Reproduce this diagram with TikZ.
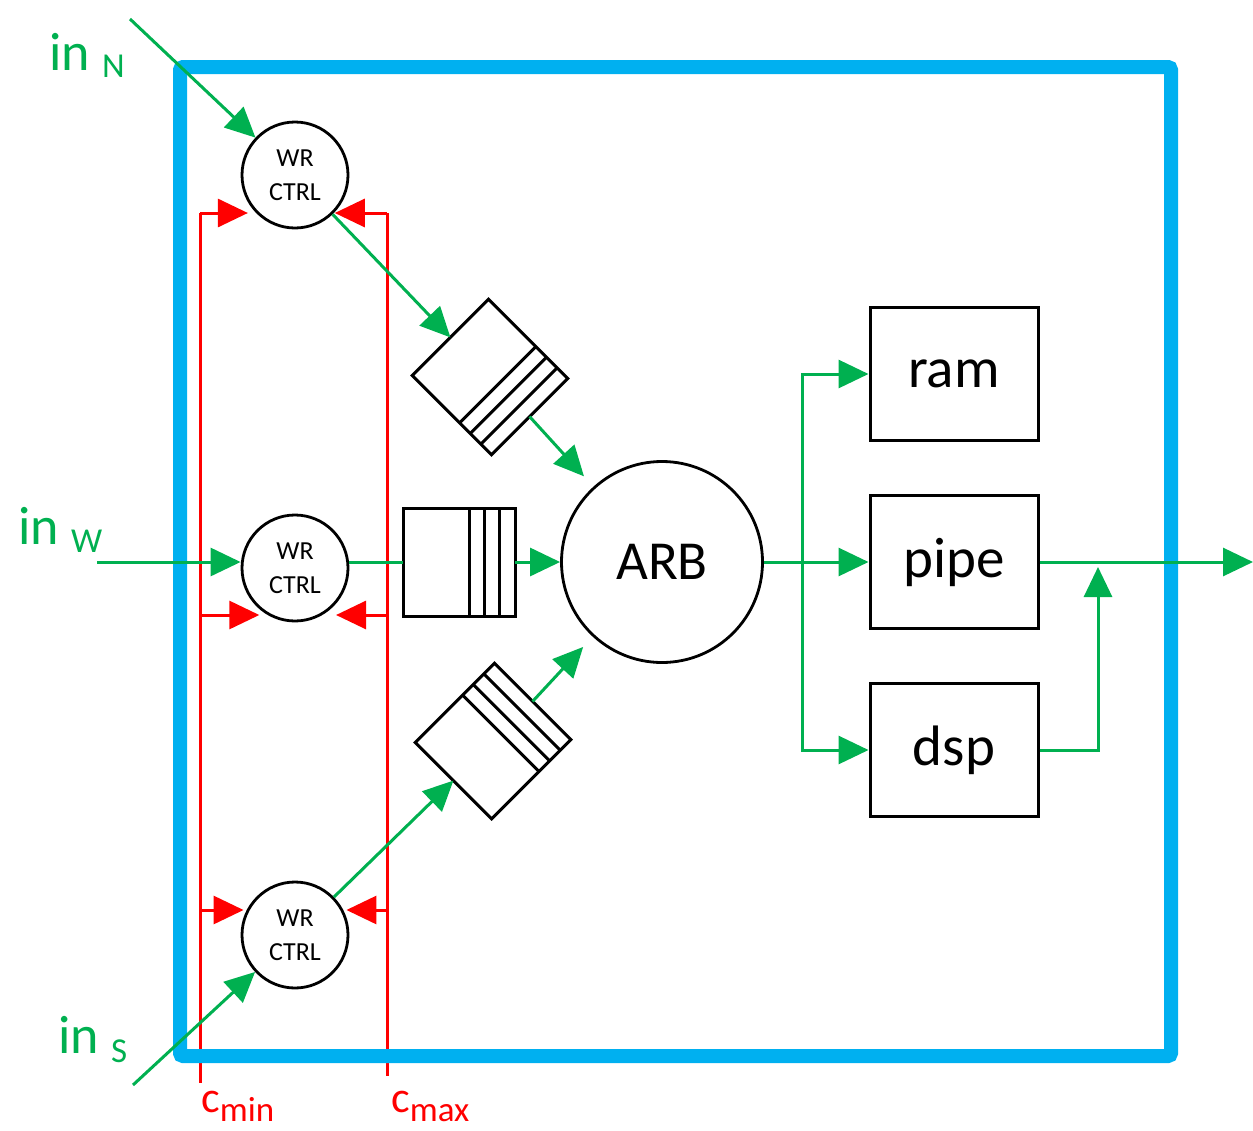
\documentclass[tikz,border=0pt]{standalone}
\usepackage{fontspec}
\setmainfont{Carlito}
\usepackage{tikz}
\usetikzlibrary{calc,arrows.meta}
\usepackage{xcolor}
\definecolor{framecyan}{RGB}{0,176,240}
\definecolor{siggreen}{RGB}{0,176,80}
\definecolor{ctlred}{RGB}{255,0,0}
\newcommand{\lowsub}[2]{\raisebox{-#1pt}[0pt][0pt]{\fontsize{35}{35}\selectfont #2}}

\begin{document}
\begin{tikzpicture}[x=1pt,y=-1pt,>={Triangle[length=30pt,width=28pt]}]
  \tikzset{
    wr/.style={circle,draw=black,line width=2.8pt,minimum size=106pt,inner sep=0pt,align=center,font=\fontsize{26}{34}\selectfont},
    fifo/.style={rectangle,draw=black,line width=3pt,minimum width=112pt,minimum height=108pt,inner sep=0pt,outer sep=0pt},
    stripe/.style={draw=black,line width=3pt},
    arbnode/.style={circle,draw=black,line width=2.8pt,minimum size=201pt,inner sep=0pt,font=\fontsize{55}{55}\selectfont},
    blk/.style={rectangle,draw=black,line width=3pt,minimum width=168pt,minimum height=133pt,inner sep=0pt,font=\fontsize{57}{57}\selectfont},
    tileframe/.style={draw=framecyan,line width=14pt,rounded corners=3pt},
    sig/.style={draw=siggreen,line width=3pt},
    ctl/.style={draw=ctlred,line width=3pt},
    inlbl/.style={text=siggreen,anchor=base west,inner sep=0pt,font=\fontsize{54}{54}\selectfont},
    clbl/.style={text=ctlred,anchor=base west,inner sep=0pt,font=\fontsize{44}{44}\selectfont},
  }
  \useasboundingbox (0,0) rectangle (1253,1130);

  \node[wr] (wrN) at (295,175) {WR\\CTRL};
  \node[wr] (wrW) at (295,568) {WR\\CTRL};
  \node[wr] (wrS) at (295,935) {WR\\CTRL};

  \node[fifo,rotate=-45] (fifoN) at (490,377) {};
  \node[fifo] (fifoW) at (459,562) {};
  \node[fifo,rotate=45] (fifoS) at (493,741) {};
  \foreach \f in {fifoN,fifoW,fifoS}
    \foreach \t in {0.134,0.268,0.402}
      \draw[stripe] ($(\f.north east)!\t!(\f.north west)$) -- ($(\f.south east)!\t!(\f.south west)$);

  \node[arbnode] (arb) at (662,562) {ARB};

  \node[blk] (ram) at (954,374) {ram};
  \node[blk] (pipe) at (954,562) {pipe};
  \node[blk] (dsp) at (954,750) {dsp};

  % limits
  \coordinate (cminN) at (200,213); \coordinate (cmaxN) at (387,213);
  \coordinate (cminW) at (200,615); \coordinate (cmaxW) at (387,615);
  \coordinate (cminS) at (200,910); \coordinate (cmaxS) at (387,910);
  \coordinate (cminB) at (200,1083); \coordinate (cmaxB) at (387,1076);
  \draw[ctl] (cminN) -- (cminB);
  \draw[ctl] (cmaxN) -- (cmaxB);
  \draw[ctl,->] (cminN) -- (wrN.210 |- cminN);
  \draw[ctl,->] (cmaxN) -- (wrN.317 |- cmaxN);
  \draw[ctl,->] (cminW) -- (wrW.229 |- cminW);
  \draw[ctl,->] (cmaxW) -- (wrW.319 |- cmaxW);
  \draw[ctl,->] (cminS) -- (wrS.199 |- cminS);
  \draw[ctl,->] (cmaxS) -- (wrS.341 |- cmaxS);

  \draw[tileframe] (180,67) rectangle (1171,1056);

  % inputs
  \coordinate (inN) at (130,19);
  \coordinate (inW) at (97,562);
  \coordinate (inS) at (133,1085);
  \draw[sig,->] (inN) -- (wrN);
  \draw[sig,->] (wrN) -- (fifoN.west);
  \draw[sig,->,shorten >=14pt] (fifoN.east) -- (arb);
  \draw[sig,->] (inW) -- (wrW.west |- inW);
  \draw[sig] (wrW.east |- inW) -- (fifoW.west);
  \draw[sig,->] (fifoW) -- (arb);
  \draw[sig,->] (inS) -- (wrS);
  \draw[sig,->] (wrS) -- (fifoS.west);
  \draw[sig,->,shorten >=14pt] (fifoS.east) -- (arb);

  % outputs
  \coordinate (split) at (802,562);
  \coordinate (join) at (1098,567);
  \coordinate (out) at (1253,562);
  \draw[sig,->] (arb) -- (pipe);
  \draw[sig,->] (split) |- (ram);
  \draw[sig,->] (split) |- (dsp);
  \draw[sig,->] (pipe) -- (out);
  \draw[sig,->] (dsp) -| (join);

  \node[inlbl] (lblN) at (49,70) {in \lowsub{7}{N}};
  \node[inlbl] (lblW) at (18,544) {in \lowsub{8}{W}};
  \node[inlbl] (lblS) at (58,1053) {in \lowsub{9}{S}};
  \node[clbl] (lblmin) at (201,1112) {c\lowsub{9}{min}};
  \node[clbl] (lblmax) at (391,1112) {c\lowsub{9}{max}};
\end{tikzpicture}
\end{document}
